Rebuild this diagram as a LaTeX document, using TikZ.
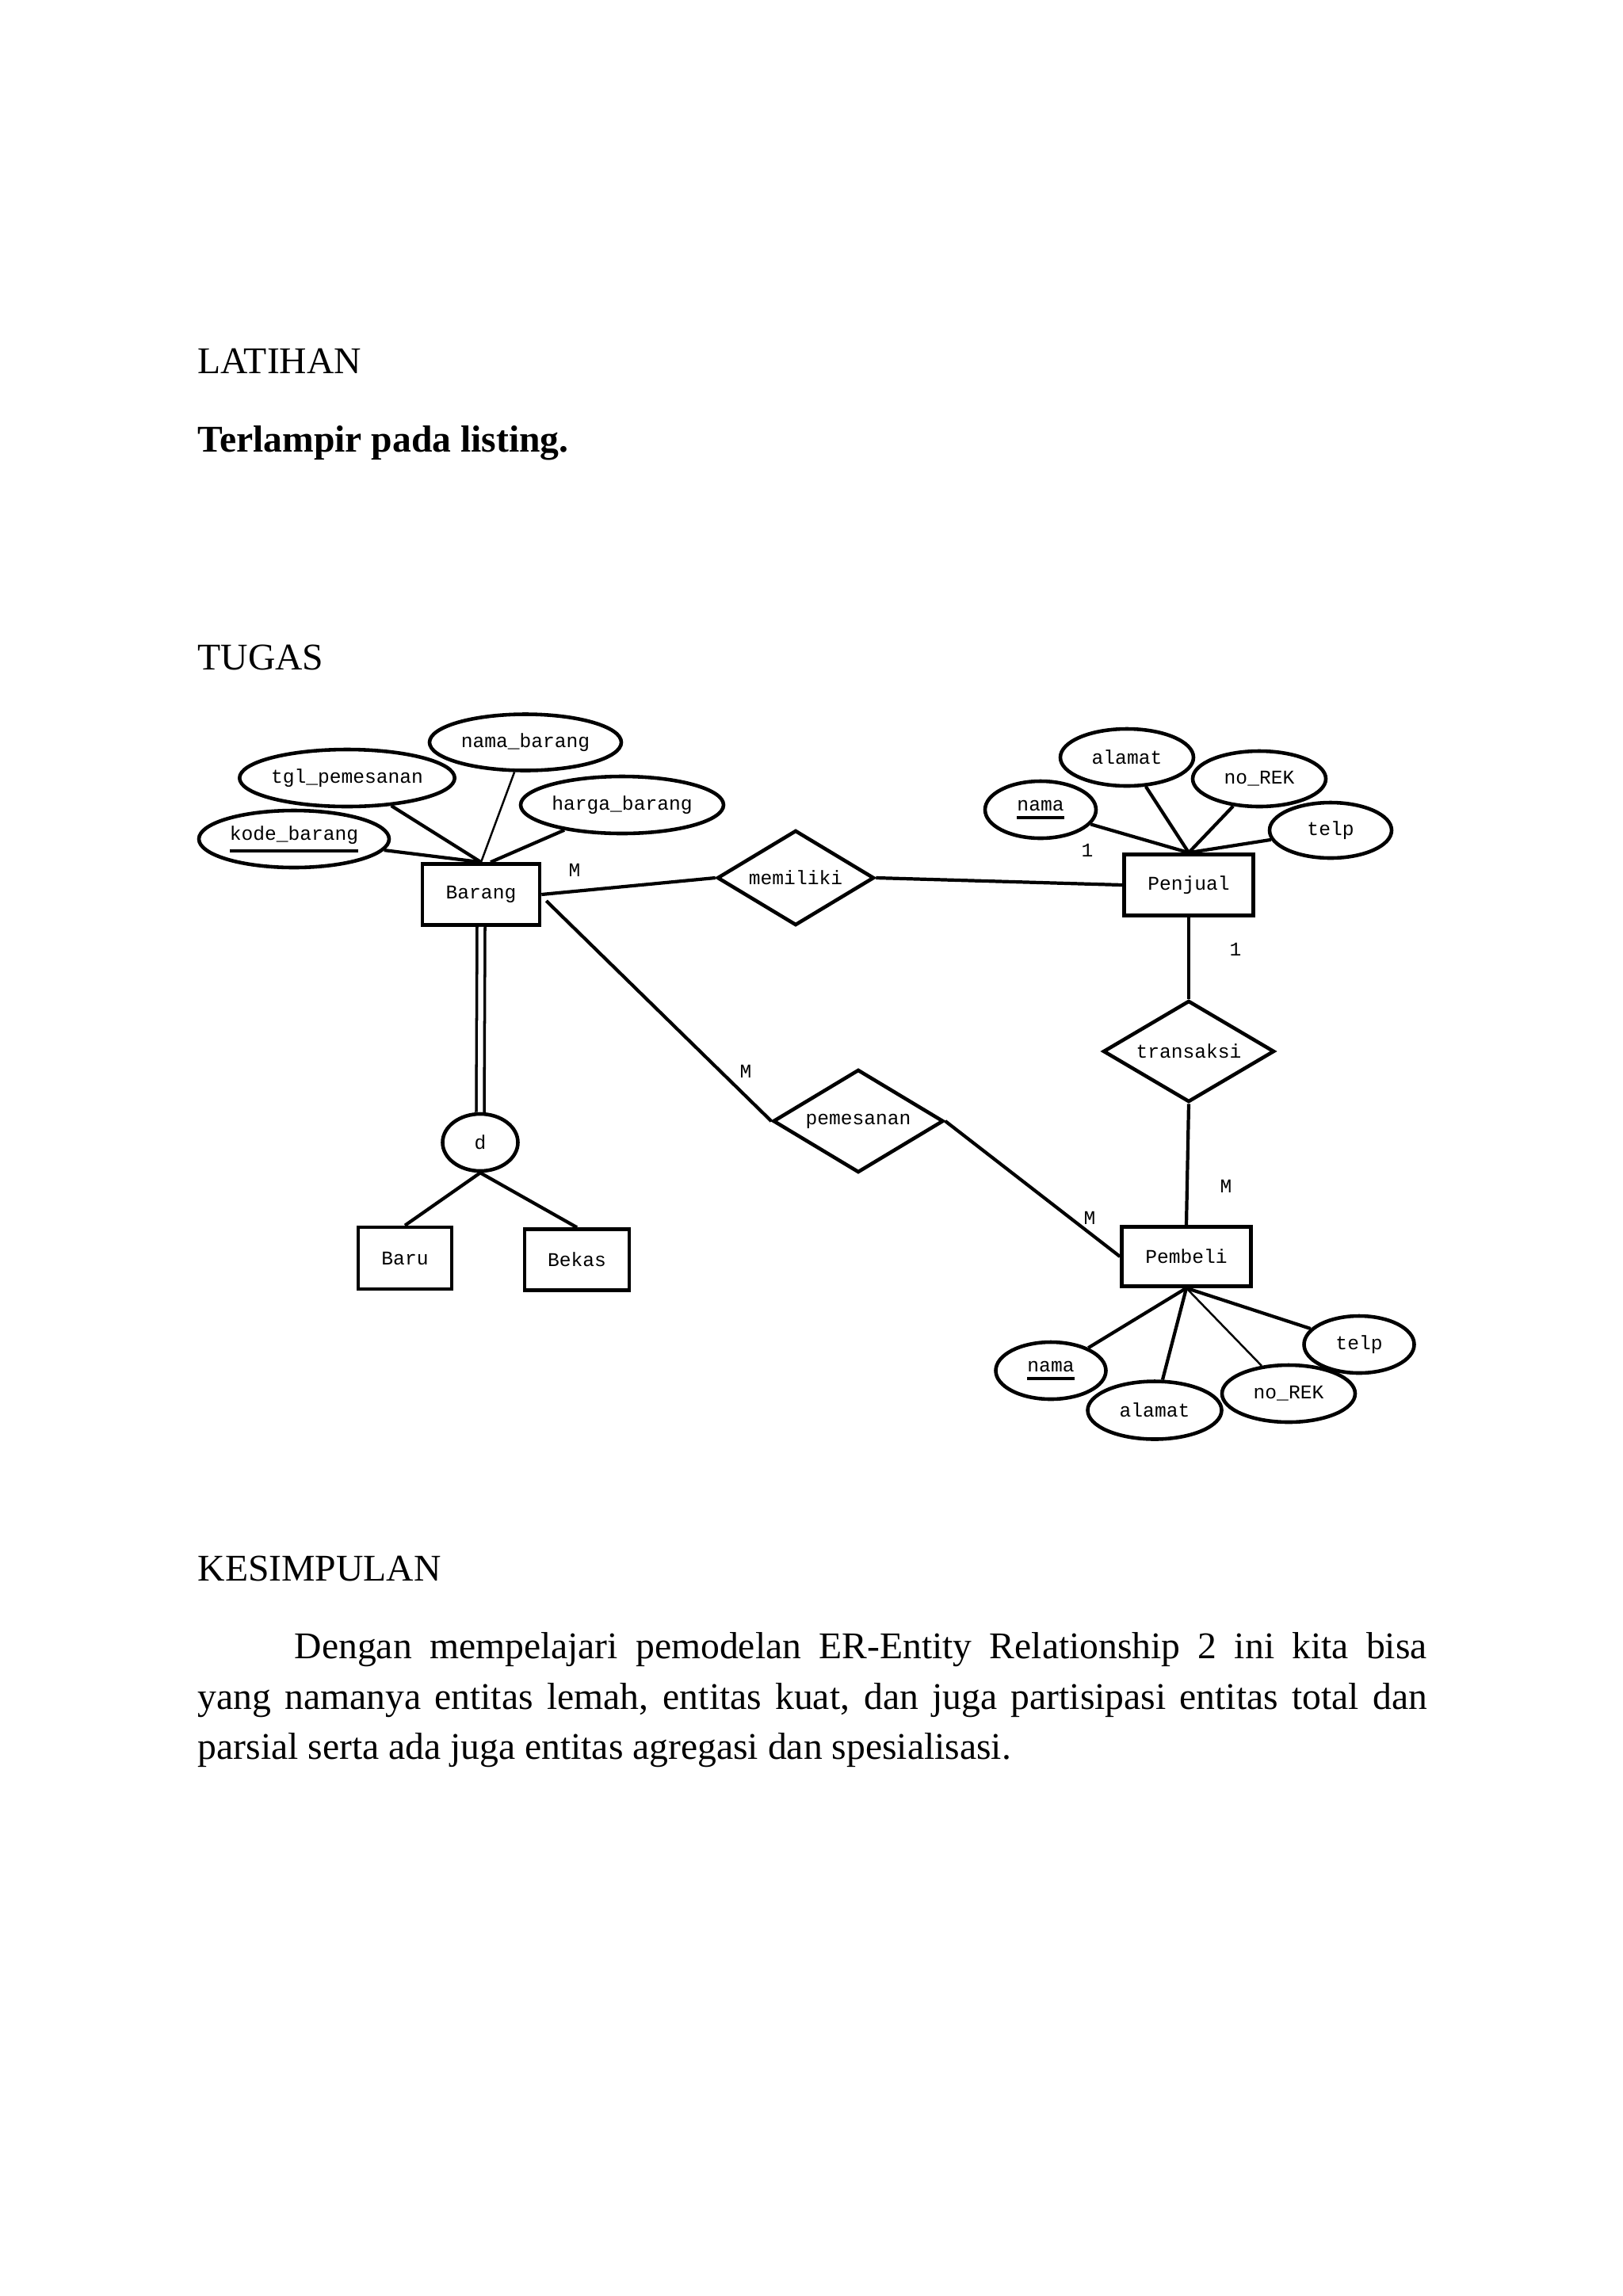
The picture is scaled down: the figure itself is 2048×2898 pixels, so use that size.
\documentclass[tikz,border=0pt]{standalone}
\usepackage{fontspec}
\setmainfont{Liberation Serif}
\newfontfamily\erfont{Liberation Mono}
\usetikzlibrary{shapes.geometric,calc}
\newcommand\keyul[1]{\vtop{\hbox{#1}\kern1.8pt\hrule height 1.2pt}}
\newcommand\bodyfont{\fontsize{13.55}{16}\selectfont}
\newcommand\erf{\erfont\fontsize{7}{8}\selectfont}
\begin{document}
\begin{tikzpicture}[x=0.1mm,y=-0.1mm,
  ent/.style={draw, line width=1.3pt, rectangle, inner sep=0pt, font=\erf},
  attr/.style={draw, line width=1.3pt, ellipse, inner sep=0pt, font=\erf},
  rel/.style={draw, line width=1.3pt, diamond, aspect=1.7, inner sep=0pt, font=\erf},
  conn/.style={line width=1.2pt},
  thinconn/.style={line width=0.7pt},
  lbl/.style={inner sep=0pt, font=\erf},
  txt/.style={anchor=base west, inner sep=0pt, font=\bodyfont}]
\path[use as bounding box, fill=white] (0,0) rectangle (2048,2898);

% page text
\node[txt] (t1) at (249,471) {LATIHAN};
\node[txt] (t2) at (249,570) {\bfseries Terlampir pada listing.};
\node[txt] (t3) at (249,845) {TUGAS};
\node[txt] (t4) at (249,1995) {KESIMPULAN};
\node[txt] (p1) at (249,2093) {\makebox[155.1mm][s]{\hspace*{12.2mm}Dengan mempelajari pemodelan ER-Entity Relationship 2 ini kita bisa}};
\node[txt] (p2) at (249,2157) {\makebox[155.1mm][s]{yang namanya entitas lemah, entitas kuat, dan juga partisipasi entitas total dan}};
\node[txt] (p3) at (249,2220) {parsial serta ada juga entitas agregasi dan spesialisasi.};

% entities
\node[ent, minimum width=14.8mm, minimum height=7.7mm] (barang) at (607,1129) {Barang};
\node[ent, minimum width=16.3mm, minimum height=7.7mm] (penjual) at (1500,1117) {Penjual};
\node[ent, minimum width=16.3mm, minimum height=7.5mm] (pembeli) at (1497,1586) {Pembeli};
\node[ent, minimum width=11.8mm, minimum height=7.8mm] (baru) at (511,1588) {Baru};
\node[ent, minimum width=13.2mm, minimum height=7.7mm] (bekas) at (728,1590) {Bekas};

% relationships
\node[rel, minimum width=19.8mm, minimum height=12mm] (memiliki) at (1004,1108) {memiliki};
\node[rel, minimum width=21.6mm, minimum height=12.8mm] (transaksi) at (1500,1327) {transaksi};
\node[rel, minimum width=21.5mm, minimum height=13mm] (pemesanan) at (1083,1415) {pemesanan};

% specialization circle
\node[attr, minimum width=9.5mm, minimum height=7.2mm] (dcirc) at (606,1442) {d};

% Barang attributes
\node[attr, minimum width=24.2mm, minimum height=7.1mm] (namabarang) at (663,937) {nama\_barang};
\node[attr, minimum width=27mm, minimum height=7.2mm] (tgl) at (438,982) {tgl\_pemesanan};
\node[attr, minimum width=25.6mm, minimum height=7.2mm] (harga) at (785,1016) {harga\_barang};
\node[attr, minimum width=24mm, minimum height=7.2mm] (kode) at (371,1059) {\keyul{kode\_barang}};

% Penjual attributes
\node[attr, minimum width=16.8mm, minimum height=7.2mm] (pjalamat) at (1422,956) {alamat};
\node[attr, minimum width=16.8mm, minimum height=7mm] (pjrek) at (1589,983) {no\_REK};
\node[attr, minimum width=14mm, minimum height=7.2mm] (pjnama) at (1313,1022) {\keyul{nama}};
\node[attr, minimum width=15.4mm, minimum height=7mm] (pjtelp) at (1679,1048) {telp};

% Pembeli attributes
\node[attr, minimum width=13.9mm, minimum height=7.2mm] (pbnama) at (1326,1730) {\keyul{nama}};
\node[attr, minimum width=16.9mm, minimum height=7.3mm] (pbalamat) at (1457,1780) {alamat};
\node[attr, minimum width=16.8mm, minimum height=7.2mm] (pbrek) at (1626,1759) {no\_REK};
\node[attr, minimum width=13.9mm, minimum height=7.2mm] (pbtelp) at (1715,1697) {telp};

% attribute connectors
\draw[conn] (kode) -- (barang.north);
\draw[conn] (tgl) -- (barang.north);
\draw[thinconn] (namabarang) -- (barang.north);
\draw[conn] (harga) -- ($(barang.north)+(12,0)$);

\draw[conn] (pjnama) -- (penjual.north);
\draw[conn] (pjalamat) -- (penjual.north);
\draw[conn] (pjrek) -- (penjual.north);
\draw[conn] (pjtelp) -- (penjual.north);

\draw[conn] (pembeli.south) -- (pbnama);
\draw[conn] (pembeli.south) -- (pbalamat);
\draw[thinconn] (pembeli.south) -- (pbrek);
\draw[conn] (pembeli.south) -- (pbtelp);

% relationship connectors
\draw[conn] (barang.east) -- (memiliki.west);
\draw[conn] (memiliki.east) -- (penjual.west);
\draw[conn] (penjual.south) -- (transaksi.north);
\draw[conn] (transaksi.south) -- (pembeli.north);
\draw[conn] ($(barang.east)+(6,8)$) -- (pemesanan.west);
\draw[conn] (pemesanan.east) -- (pembeli.west);

% specialization
\draw[line width=1pt, double, double distance=0.65mm] (barang.south) -- (dcirc.north);
\draw[conn] (dcirc.south) -- (baru.north);
\draw[conn] (dcirc.south) -- (bekas.north);

% cardinality labels
\node[lbl] (m1) at (725,1098) {M};
\node[lbl] (o1) at (1372,1073) {1};
\node[lbl] (o2) at (1559,1198) {1};
\node[lbl] (m2) at (941,1352) {M};
\node[lbl] (m3) at (1547,1497) {M};
\node[lbl] (m4) at (1375,1537) {M};
\end{tikzpicture}
\end{document}
